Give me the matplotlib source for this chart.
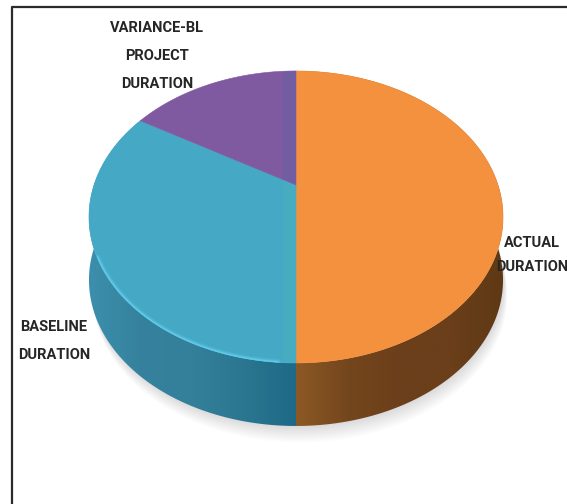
import matplotlib
matplotlib.use('Agg')
import matplotlib.pyplot as plt
from matplotlib.colors import LinearSegmentedColormap
from matplotlib.patches import Polygon, Rectangle
import numpy as np

plt.rcParams['font.family'] = ['Roboto', 'DejaVu Sans']

# durations, clockwise from twelve o'clock
categories = ['ACTUAL\nDURATION', 'BASELINE\nDURATION', 'VARIANCE-BL\nPROJECT\nDURATION']
values = [50.0, 33.6, 16.4]
face_colors = ['#f4913f', '#45a9c6', '#7f5aa0']

# tilted disc geometry, in pixels
CX, CY = 296, 185
SCALE_X, SCALE_Y, TILT = 202, 139, 0.219
DEPTH = 63


def disc_points(start, end, n=200):
    """Outline points of the tilted disc between two angles (degrees)."""
    t = np.radians(np.linspace(start, end, n))
    u, v = np.cos(t), np.sin(t)
    w = 1 + TILT * v
    return CX + SCALE_X * u / w, CY - SCALE_Y * v / w


def wall_image(ax, poly, stops_x, x0, x1, y0, y1):
    """Side wall: horizontal colour ramp clipped to the wall outline."""
    cmap = LinearSegmentedColormap.from_list('wall', stops_x)
    grad = cmap(np.linspace(0, 1, 256))[None, :, :3]
    ax.add_patch(poly)
    im = ax.imshow(grad, extent=(x0, x1, y1, y0), aspect='auto', zorder=2,
                   interpolation='bilinear')
    im.set_clip_path(poly)


fig = plt.figure(figsize=(5.67, 5.04), dpi=100, facecolor='white')
ax = fig.add_axes([0, 0, 1, 1])
ax.set_xlim(0, 567)
ax.set_ylim(504, 0)
ax.axis('off')

# frame, only the left and top edges are in view
ax.plot([12, 12, 567], [504, 7, 7], color='#2b2b2b', lw=1.6, zorder=1)

# soft shadow under the disc
x_all, y_all = disc_points(0, 360, 400)
for i in range(12):
    ax.fill(x_all + 1 + i * 0.3, y_all + DEPTH + 1 + i * 1.4, color='#000000', alpha=0.012, lw=0, zorder=1)

# slice angles from the values
fracs = np.array(values) / sum(values)
angles = 90 - 360 * np.concatenate([[0], np.cumsum(fracs)])

# side walls of the two front slices
wall_stops = [
    ['#8c5925', '#74461d', '#6b3f1a', '#6a3f1a', '#5e3815'],
    ['#1d6a88', '#2b7690', '#34809b', '#36829e', '#3c90ad'],
]
wall_spans = [(296, 505), (296, 86)]
for i in range(2):
    x, y = disc_points(angles[i], angles[i + 1])
    pts = np.column_stack([np.r_[x, x[::-1]], np.r_[y, y[::-1] + DEPTH]])
    poly = Polygon(pts, closed=True, facecolor='none', edgecolor='none', zorder=2)
    x0, x1 = wall_spans[i]
    wall_image(ax, poly, wall_stops[i], x0, x1, 60, 440)

ax.set_xlim(0, 567)
ax.set_ylim(504, 0)

# top faces
faces = []
for i in range(3):
    x, y = disc_points(angles[i], angles[i + 1])
    faces.append(ax.fill(np.r_[CX, x], np.r_[CY, y], color=face_colors[i], lw=0.4, zorder=3)[0])

# faint vertical banding beside the split, on the purple and blue faces
for face, band, alpha in [(faces[2], '#5f64a8', 0.4), (faces[1], '#52b3b4', 0.3)]:
    rect = Rectangle((283, 60), 12.5, 320, facecolor=band, alpha=alpha, lw=0, zorder=3.5)
    ax.add_patch(rect)
    rect.set_clip_path(face.get_path(), face.get_transform())

# bright rim along the front of the blue slice, kept inside the face edge
for lw, alpha in [(5.0, 0.18), (3.2, 0.35), (1.8, 0.8)]:
    x, y = disc_points(angles[1] - 62, angles[1] - 4)
    rim = ax.plot(x, y, color='#62d0ee', lw=lw, alpha=alpha, solid_capstyle='round', zorder=4)[0]
    rim.set_clip_path(faces[1].get_path(), faces[1].get_transform())

# slice labels
label_xy = [(532, 255), (54, 341), (157, 56)]
label_spacing = [1.85, 2.25, 2.25]
for text, (lx, ly), spacing in zip(categories, label_xy, label_spacing):
    ax.text(lx, ly, text, ha='center', va='center', fontsize=10.5, fontweight='bold',
            color='#262626', linespacing=spacing, zorder=5)

fig.savefig('out.png', dpi=100)
